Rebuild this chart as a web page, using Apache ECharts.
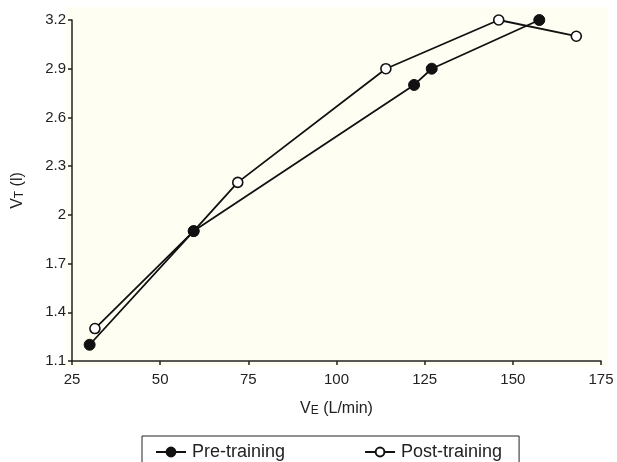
<!DOCTYPE html>
<html>
<head>
<meta charset="utf-8">
<script src="https://cdn.jsdelivr.net/npm/echarts@6/dist/echarts.min.js"></script>
<style>
  html, body { margin: 0; padding: 0; background: #fff; }
  #chart { width: 617px; height: 462px; }
</style>
</head>
<body>
<div id="chart"></div>
<script>
// V_E (L/min) vs V_T (l)
const preVE = [30, 59.5, 122, 127, 157.5]
const preVT = [1.2, 1.9, 2.8, 2.9, 3.2]
const postVE = [31.5, 59.5, 72, 114, 146, 168]
const postVT = [1.3, 1.9, 2.2, 2.9, 3.2, 3.1]
const yTicks = [1.1, 1.4, 1.7, 2, 2.3, 2.6, 2.9, 3.2]

const toPairs = (xs, ys) => xs.map((x, i) => [x, ys[i]])

const chart = echarts.init(document.getElementById('chart'))

const font = 'Liberation Sans, Arial, sans-serif'

chart.setOption({
  animation: false,
  textStyle: { fontFamily: font },
  graphic: [{
    type: 'rect',
    left: 66,
    top: 7,
    shape: { width: 542, height: 360 },
    style: { fill: '#fefef3' },
    z: -10,
    silent: true
  }],
  grid: { left: 72, right: 16, top: 20, bottom: 101 },
  legend: {
    left: 142,
    top: 436,
    padding: [7, 17, 30, 13],
    itemGap: 79,
    itemWidth: 30,
    itemHeight: 11,
    borderColor: '#222',
    borderWidth: 1,
    textStyle: { fontSize: 18, color: '#222', fontFamily: font, padding: [0, 0, 0, 1] },
    data: ['Pre-training', 'Post-training']
  },
  xAxis: {
    type: 'value',
    min: 25,
    max: 175,
    interval: 25,
    name: '{v|V}{s|E}{v| (L/min)}',
    nameLocation: 'middle',
    nameGap: 40,
    nameTextStyle: {
      rich: {
        v: { fontSize: 16, color: '#222', fontFamily: font },
        s: { fontSize: 12, color: '#222', fontFamily: font, verticalAlign: 'bottom' }
      }
    },
    axisLine: { onZero: false, lineStyle: { color: '#222', width: 1.5 } },
    axisTick: { show: true, length: 4, lineStyle: { color: '#222', width: 1.5 } },
    axisLabel: { fontSize: 15, color: '#222', margin: 11 },
    splitLine: { show: false }
  },
  yAxis: {
    type: 'value',
    min: 1.1,
    max: 3.2,
    interval: 0.3,
    name: '{v|V}{s|T}{v| (l)}',
    nameLocation: 'middle',
    nameRotate: 90,
    nameGap: 46,
    nameTextStyle: {
      rich: {
        v: { fontSize: 16, color: '#222', fontFamily: font },
        s: { fontSize: 12, color: '#222', fontFamily: font, verticalAlign: 'bottom' }
      }
    },
    axisLine: { show: true, onZero: false, lineStyle: { color: '#222', width: 1.5 } },
    axisTick: { show: true, length: 4, lineStyle: { color: '#222', width: 1.5 } },
    axisLabel: {
      fontSize: 15,
      color: '#222',
      margin: 6,
      formatter: v => {
        const t = yTicks.find(k => Math.abs(k - v) < 1e-6)
        return t === undefined ? '' : String(t)
      }
    },
    splitLine: { show: false }
  },
  series: [
    {
      name: 'Pre-training',
      type: 'line',
      data: toPairs(preVE, preVT),
      symbol: 'circle',
      symbolSize: 11,
      lineStyle: { color: '#111', width: 1.8 },
      itemStyle: { color: '#111', borderColor: '#111', borderWidth: 1 },
      z: 3
    },
    {
      name: 'Post-training',
      type: 'line',
      data: toPairs(postVE, postVT),
      symbol: 'circle',
      symbolSize: 10,
      lineStyle: { color: '#111', width: 1.8 },
      itemStyle: { color: '#fff', borderColor: '#111', borderWidth: 1.6 },
      z: 2
    }
  ]
})
</script>
</body>
</html>
